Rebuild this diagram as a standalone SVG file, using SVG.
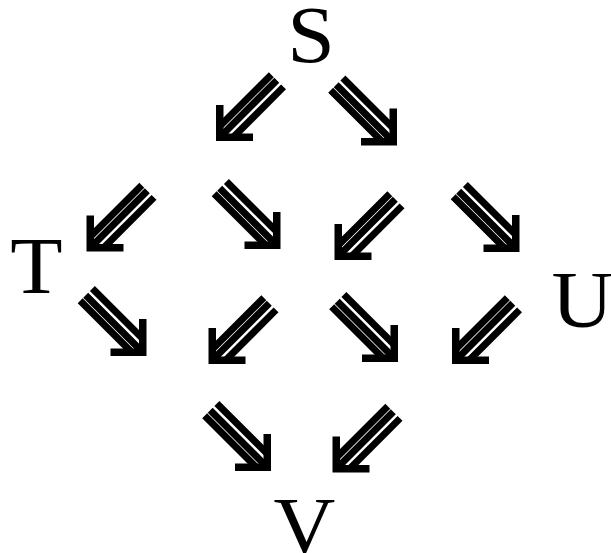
<svg xmlns="http://www.w3.org/2000/svg" width="611" height="553" viewBox="0 0 611 553">
<style>
.sh{stroke:#000;stroke-width:7;fill:none;stroke-linecap:butt}
</style>
<defs>
<g id="arr">
<path d="M-7.5,-37 H0 V0 H-36 V-7.5 H-7.5 Z" fill="#000"/>
<path class="sh" d="M-54.1,-67.53 L-3.5,-16.94 M-60.81,-60.81 L-3.8,-3.8 M-66.33,-55.3 L-14.53,-3.5"/>
</g>
</defs>
<rect width="611" height="553" fill="#fff"/>
<g font-family="Liberation Serif, Times New Roman, serif" font-size="80" fill="#000">
<g id="S"><text transform="translate(287.2,62) scale(1.07,1)">S</text></g>
<g id="T"><text transform="translate(10.2,293) scale(1.07,1)">T</text></g>
<g id="U"><text transform="translate(551.5,327) scale(1.07,1)">U</text></g>
<g id="V"><text transform="translate(273.5,553) scale(1.07,1)">V</text></g>
</g>
<g id="connectors">
<use href="#arr" transform="translate(216,141) rotate(90)"/>
<use href="#arr" transform="translate(397,145.5)"/>
<use href="#arr" transform="translate(86.5,251.5) rotate(90)"/>
<use href="#arr" transform="translate(280.5,249)"/>
<use href="#arr" transform="translate(334.5,260) rotate(90)"/>
<use href="#arr" transform="translate(519.5,252)"/>
<use href="#arr" transform="translate(146.5,356)"/>
<use href="#arr" transform="translate(208.5,364) rotate(90)"/>
<use href="#arr" transform="translate(398,362)"/>
<use href="#arr" transform="translate(452,364) rotate(90)"/>
<use href="#arr" transform="translate(271,471)"/>
<use href="#arr" transform="translate(332.5,472.5) rotate(90)"/>
</g>
</svg>
